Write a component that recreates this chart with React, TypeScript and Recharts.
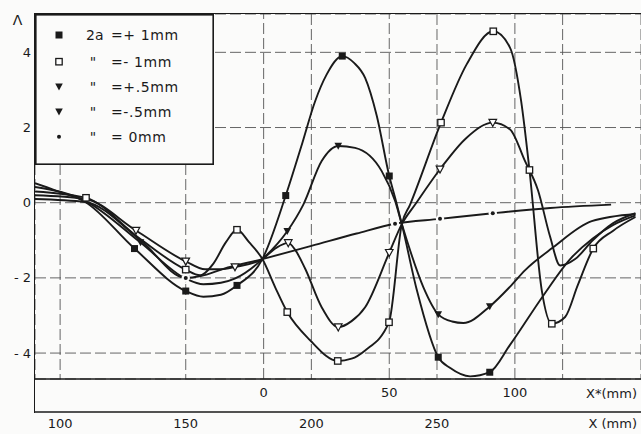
import React from 'react';
import { LineChart, Line, XAxis, YAxis, CartesianGrid, ReferenceLine, Legend } from 'recharts';

type Pt = [number, number, number];

// [X (mm), Λ, 1 = point carries a marker]
const plusOne: Pt[] = [
  [90, 0.52, 0], [98, 0.33, 0], [110, 0.02, 0], [129.6, -1.22, 1], [150, -2.35, 1], [157, -2.5, 0],
  [164, -2.45, 0], [170.4, -2.2, 1], [180.5, -1.5, 0], [189.8, 0.19, 1], [196, 1.5, 0], [201.5, 2.7, 0],
  [206, 3.4, 0], [212.3, 3.9, 1], [217, 3.72, 0], [221.4, 3.32, 0], [226, 2.32, 0], [231, 0.71, 1],
  [233.7, 0.04, 0], [236, -0.57, 0], [242, -2.33, 0], [250.5, -4.11, 1], [255.3, -4.4, 0], [263.2, -4.62, 0],
  [271, -4.51, 1], [279, -3.79, 0], [292, -2.5, 0], [303, -1.5, 0], [312, -0.95, 0], [320, -0.6, 0], [329, -0.34, 0],
];

const minusOne: Pt[] = [
  [90, 0.3, 0], [110.3, 0.13, 1], [131, -0.92, 0], [150, -1.78, 1], [155.7, -1.93, 0], [161, -1.62, 0],
  [166, -1.05, 0], [170.4, -0.72, 1], [175.2, -1.05, 0], [180.5, -1.5, 0], [185.6, -2.25, 0], [190.4, -2.91, 1],
  [199.5, -3.66, 0], [210.5, -4.21, 1], [216, -4.15, 0], [221.4, -3.93, 0], [230.9, -3.18, 1], [236, -0.57, 0],
  [239.3, -0.05, 0], [251.6, 2.13, 1], [261.8, 3.68, 0], [272.4, 4.56, 1], [279.1, 4.12, 0], [283.5, 2.7, 0],
  [286.8, 0.87, 1], [291.7, -2.33, 0], [295.7, -3.22, 1], [301, -3.04, 0], [306, -2.2, 0], [312.2, -1.22, 1],
  [320, -0.75, 0], [329, -0.38, 0],
];

const plusHalf: Pt[] = [
  [90, 0.42, 0], [110, 0.05, 0], [132, -1.06, 1], [150, -2.02, 1], [157, -2.17, 0], [164, -2.13, 0],
  [169.5, -2.02, 0], [180.5, -1.5, 0], [190.4, -0.76, 1], [196.8, -0.05, 0], [204.1, 1.11, 0], [210.7, 1.51, 1],
  [217.4, 1.46, 0], [228, 0.84, 0], [233.3, 0.05, 0], [236, -0.57, 0], [238, -1.0, 0], [244.6, -2.25, 0],
  [250.5, -2.97, 1], [256, -3.16, 0], [260.5, -3.2, 0], [271, -2.76, 1], [279, -2.24, 0], [285, -1.8, 0],
  [296, -1.2, 0], [311.6, -0.49, 0], [329, -0.3, 0],
];

const minusHalf: Pt[] = [
  [90, 0.2, 0], [110, 0.1, 0], [130.2, -0.74, 1], [150, -1.56, 1], [157.7, -1.77, 0], [164, -1.77, 0],
  [169.6, -1.71, 1], [180.5, -1.5, 0], [186, -1.2, 0], [190.8, -1.07, 1], [193.5, -1.25, 0], [197.5, -1.75, 0],
  [204.1, -2.78, 0], [210.7, -3.31, 1], [216, -3.15, 0], [221.4, -2.78, 0], [231, -1.33, 1], [236, -0.57, 0],
  [241.3, -0.05, 0], [251.2, 0.89, 1], [261.8, 1.73, 0], [272.2, 2.13, 1], [279.1, 1.95, 0], [285, 1.11, 0],
  [290.2, 0.33, 0], [295, -0.9, 0], [299, -1.67, 0], [305, -1.5, 0], [312, -1.0, 0], [320, -0.55, 0], [329, -0.28, 0],
];

const zero: Pt[] = [
  [90, 0.1, 0], [110, 0.02, 0], [132, -1.0, 0], [150, -2.0, 1], [156, -1.95, 0], [165, -1.76, 0],
  [180.5, -1.5, 0], [200, -1.15, 0], [218, -0.82, 0], [233.3, -0.56, 1], [251.2, -0.43, 1], [272.2, -0.28, 1],
  [295, -0.14, 0], [319.3, -0.05, 0],
];

const xTicks = [100, 150, 200, 250, 300];
const starTicks = [0, 50, 100];
const yTicks = [-4, -2, 0, 2, 4];

const legendLead = ['2a', '"', '"', '"', '"'];
const legendValue = ['=+ 1mm', '=- 1mm', '=+.5mm', '=-.5mm', '= 0mm'];
const legendShapes = ['fsq', 'osq', 'ftri', 'ftri', 'dot'];

const INK = '#1a1a1a';
const BG = '#fbfbfa';
const FONT = '"DejaVu Sans", sans-serif';
const STAR_SHIFT = 181; // X = X* + 181
const X_DOMAIN: [number, number] = [90, 331.2];

const series = [
  { name: 'plusOne', pts: plusOne, shape: 'fsq' },
  { name: 'minusOne', pts: minusOne, shape: 'osq' },
  { name: 'plusHalf', pts: plusHalf, shape: 'ftri' },
  { name: 'minusHalf', pts: minusHalf, shape: 'otri' },
  { name: 'zero', pts: zero, shape: 'dot' },
];

function Marker({ cx, cy, shape }: { cx: number; cy: number; shape: string }) {
  if (shape === 'fsq') return <rect x={cx - 3.5} y={cy - 3.5} width={7} height={7} fill={INK} />;
  if (shape === 'osq')
    return <rect x={cx - 3.2} y={cy - 3.2} width={6.4} height={6.4} fill="#fff" stroke={INK} strokeWidth={1.3} />;
  const tri = `M${cx - 3.8},${cy - 3.2} L${cx + 3.8},${cy - 3.2} L${cx},${cy + 3.8}Z`;
  if (shape === 'ftri') return <path d={tri} fill={INK} />;
  if (shape === 'otri') return <path d={tri} fill="#fff" stroke={INK} strokeWidth={1.2} />;
  return (
    <g>
      <circle cx={cx} cy={cy} r={4.2} fill={BG} />
      <circle cx={cx} cy={cy} r={2} fill={INK} />
    </g>
  );
}

const dotFor = (shape: string) => (p: any) => {
  if (!p.payload || !p.payload.m) return <g key={`n${p.index}`} />;
  return (
    <g key={`d${p.index}`}>
      <Marker cx={p.cx} cy={p.cy} shape={shape} />
    </g>
  );
};

function LegendBox() {
  const rows = [21, 47.7, 72.7, 97.7, 122.7];
  return (
    <svg width={179} height={151} style={{ display: 'block' }}>
      <rect x={0.8} y={0.8} width={177.4} height={149.4} fill={BG} stroke={INK} strokeWidth={1.6} />
      {rows.map((y, i) => (
        <g key={i} fontFamily={FONT} fontSize={14} fill={INK}>
          <Marker cx={24} cy={y} shape={legendShapes[i]} />
          <text x={i === 0 ? 51 : 58} y={y} textAnchor={i === 0 ? 'start' : 'middle'} dominantBaseline="central">
            {legendLead[i]}
          </text>
          <text x={76} y={y} dominantBaseline="central" letterSpacing={0.6}>
            {legendValue[i]}
          </text>
        </g>
      ))}
    </svg>
  );
}

const tickStyle = { fontSize: 13, fill: INK, fontFamily: FONT };
const gridStroke = { stroke: '#555', strokeDasharray: '11 4', strokeWidth: 0.9 };

export default function App() {
  // anchors the X* scale (same range as X, shifted) so its ticks and grid lines resolve
  const starAnchor = starTicks.map((t) => ({ x: t, y: 0 }));
  return (
    <div style={{ position: 'absolute', left: 0, top: 0, width: 641, height: 434, background: BG }}>
      <LineChart width={641} height={434} margin={{ top: 14, right: 0, bottom: 0, left: 0 }}>
        <CartesianGrid xAxisId="bMain" {...gridStroke} />
        <XAxis
          xAxisId="bMain"
          dataKey="x"
          type="number"
          domain={X_DOMAIN}
          allowDataOverflow
          ticks={xTicks}
          tickFormatter={(v: number) => (v === 300 ? '' : String(v))}
          height={22}
          tickSize={0}
          tickMargin={7}
          axisLine={{ stroke: INK, strokeWidth: 1.6 }}
          tick={tickStyle}
          label={{ value: 'X (mm)', position: 'insideRight', offset: 4, fontSize: 13, fill: INK, fontFamily: FONT }}
        />
        <XAxis
          xAxisId="aStar"
          dataKey="x"
          type="number"
          domain={[X_DOMAIN[0] - STAR_SHIFT, X_DOMAIN[1] - STAR_SHIFT]}
          allowDataOverflow
          ticks={starTicks}
          height={33}
          tickSize={0}
          tickMargin={9}
          axisLine={{ stroke: INK, strokeWidth: 1.6 }}
          tick={tickStyle}
          label={{ value: 'X*(mm)', position: 'insideRight', offset: 4, fontSize: 13, fill: INK, fontFamily: FONT, dy: -2 }}
        />
        <YAxis
          type="number"
          domain={[-4.69, 5.02]}
          allowDataOverflow
          ticks={yTicks}
          width={35}
          axisLine={false}
          tickSize={0}
          tickMargin={4}
          tick={tickStyle}
          tickFormatter={(v: number) => (v < 0 ? `- ${Math.abs(v)}` : String(v))}
          label={{ value: 'Λ', position: 'top', offset: -11, fontSize: 14, fill: INK, fontFamily: FONT }}
        />
        <Line
          xAxisId="aStar"
          data={starAnchor}
          dataKey="y"
          stroke="none"
          dot={false}
          activeDot={false}
          isAnimationActive={false}
        />
        {starTicks.map((t) => (
          <ReferenceLine key={t} xAxisId="aStar" x={t} {...gridStroke} />
        ))}
        <Legend
          layout="vertical"
          align="center"
          verticalAlign="middle"
          content={() => <LegendBox />}
          wrapperStyle={{ left: 35, top: 14, width: 179, height: 151 }}
        />
        {series.map((s) => (
          <Line
            key={s.name}
            xAxisId="bMain"
            data={s.pts.map(([x, y, m]) => ({ x, y, m }))}
            dataKey="y"
            type="monotone"
            stroke={INK}
            strokeWidth={1.9}
            dot={dotFor(s.shape)}
            activeDot={false}
            isAnimationActive={false}
          />
        ))}
      </LineChart>
      <div
        style={{
          position: 'absolute',
          left: 34,
          top: 13,
          width: 607,
          height: 399,
          borderLeft: `1.6px solid ${INK}`,
          borderTop: `1.6px solid ${INK}`,
          pointerEvents: 'none',
        }}
      />
    </div>
  );
}
